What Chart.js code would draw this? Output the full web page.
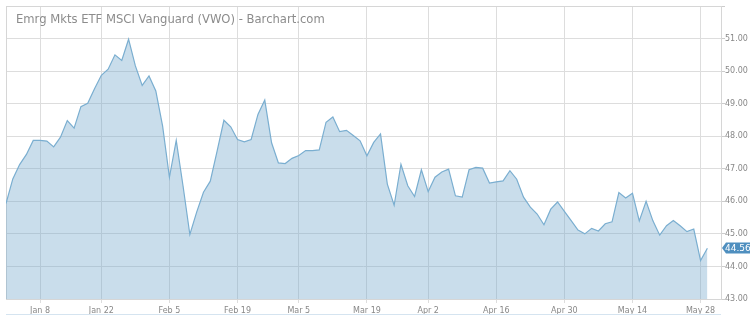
<!DOCTYPE html>
<html lang="en">
<head>
    <meta charset="UTF-8">
    <title>Emrg Mkts ETF MSCI Vanguard (VWO) - Barchart.com</title>
    <script src="https://cdn.jsdelivr.net/npm/chart.js@4.4.1/dist/chart.umd.min.js"></script>
    <style>
        html, body { margin: 0; padding: 0; background: #fff; }
        canvas { display: block; }
    </style>
</head>
<body>
    <canvas id="chart" width="750" height="324"></canvas>

    <script>
        const chartTitle = 'Emrg Mkts ETF MSCI Vanguard (VWO) - Barchart.com';

        // trading days, Dec 29 2017 - May 30 2018
        const dates = [
            'Dec 29',
            'Jan 2', 'Jan 3', 'Jan 4', 'Jan 5', 'Jan 8', 'Jan 9', 'Jan 10', 'Jan 11', 'Jan 12',
            'Jan 16', 'Jan 17', 'Jan 18', 'Jan 19', 'Jan 22', 'Jan 23', 'Jan 24', 'Jan 25', 'Jan 26',
            'Jan 29', 'Jan 30', 'Jan 31',
            'Feb 1', 'Feb 2', 'Feb 5', 'Feb 6', 'Feb 7', 'Feb 8', 'Feb 9', 'Feb 12', 'Feb 13', 'Feb 14',
            'Feb 15', 'Feb 16', 'Feb 20', 'Feb 21', 'Feb 22', 'Feb 23', 'Feb 26', 'Feb 27', 'Feb 28',
            'Mar 1', 'Mar 2', 'Mar 5', 'Mar 6', 'Mar 7', 'Mar 8', 'Mar 9', 'Mar 12', 'Mar 13', 'Mar 14',
            'Mar 15', 'Mar 16', 'Mar 19', 'Mar 20', 'Mar 21', 'Mar 22', 'Mar 23', 'Mar 26', 'Mar 27',
            'Mar 28', 'Mar 29',
            'Apr 2', 'Apr 3', 'Apr 4', 'Apr 5', 'Apr 6', 'Apr 9', 'Apr 10', 'Apr 11', 'Apr 12', 'Apr 13',
            'Apr 16', 'Apr 17', 'Apr 18', 'Apr 19', 'Apr 20', 'Apr 23', 'Apr 24', 'Apr 25', 'Apr 26',
            'Apr 27', 'Apr 30',
            'May 1', 'May 2', 'May 3', 'May 4', 'May 7', 'May 8', 'May 9', 'May 10', 'May 11', 'May 14',
            'May 15', 'May 16', 'May 17', 'May 18', 'May 21', 'May 22', 'May 23', 'May 24', 'May 25',
            'May 29', 'May 30'
        ];

        const closes = [
            45.93,
            46.69, 47.13, 47.44, 47.87, 47.87, 47.85, 47.67, 47.97, 48.48,
            48.25, 48.91, 49.01, 49.46, 49.87, 50.06, 50.50, 50.33, 50.98,
            50.16, 49.56, 49.85,
            49.39, 48.31, 46.74, 47.87, 46.47, 44.98, 45.67, 46.28, 46.62, 47.54,
            48.49, 48.29, 47.90, 47.83, 47.90, 48.67, 49.11, 47.80, 47.18,
            47.16, 47.32, 47.41, 47.56, 47.56, 47.58, 48.43, 48.59, 48.14, 48.18,
            48.02, 47.86, 47.40, 47.81, 48.07, 46.53, 45.88, 47.14, 46.48,
            46.15, 46.97,
            46.30, 46.74, 46.90, 46.99, 46.17, 46.13, 46.97, 47.04, 47.02, 46.56,
            46.60, 46.63, 46.94, 46.68, 46.13, 45.82, 45.61, 45.28, 45.76,
            45.98, 45.69,
            45.41, 45.12, 45.00, 45.17, 45.09, 45.31, 45.37, 46.27, 46.10, 46.25,
            45.40, 46.00, 45.40, 44.96, 45.25, 45.41, 45.25, 45.07, 45.15,
            44.18, 44.56
        ];

        // x tick labels and the trading day each one sits on
        const tickLabels = ['Jan 8', 'Jan 22', 'Feb 5', 'Feb 19', 'Mar 5', 'Mar 19', 'Apr 2', 'Apr 16', 'Apr 30', 'May 14', 'May 28'];
        const tickDates  = ['Jan 8', 'Jan 22', 'Feb 5', 'Feb 20', 'Mar 5', 'Mar 19', 'Apr 2', 'Apr 16', 'Apr 30', 'May 14', 'May 29'];

        const yMin = 43;
        const yMax = 52;

        const tickIdx = tickDates.map(d => dates.indexOf(d));
        const lastPrice = closes[closes.length - 1];

        const frame = {
            id: 'frame',
            beforeDatasetsDraw(chart) {
                const { ctx, chartArea: a } = chart;
                ctx.save();
                ctx.strokeStyle = '#d6d6d6';
                ctx.lineWidth = 1;
                ctx.strokeRect(a.left + 0.5, a.top + 0.5, a.right - a.left, a.bottom - a.top);
                ctx.restore();
            },
            afterDraw(chart) {
                const { ctx, chartArea: a, scales } = chart;
                ctx.save();
                // title
                ctx.fillStyle = '#8c8c8c';
                ctx.font = '11.6px "DejaVu Sans"';
                ctx.textBaseline = 'alphabetic';
                ctx.fillText(chartTitle, 16, 23);

                // navigator line under the x labels
                ctx.strokeStyle = '#d5e4f0';
                ctx.beginPath();
                ctx.moveTo(a.left, 314.5);
                ctx.lineTo(a.right, 314.5);
                ctx.stroke();

                // last price tag
                const y = Math.round(scales.y.getPixelForValue(lastPrice));
                const x0 = a.right + 1;
                ctx.fillStyle = '#4f8fbf';
                ctx.beginPath();
                ctx.moveTo(x0, y);
                ctx.lineTo(x0 + 4, y - 5.5);
                ctx.lineTo(750, y - 5.5);
                ctx.lineTo(750, y + 5.5);
                ctx.lineTo(x0 + 4, y + 5.5);
                ctx.closePath();
                ctx.fill();
                ctx.fillStyle = '#fff';
                ctx.font = '9px "DejaVu Sans"';
                ctx.textBaseline = 'middle';
                ctx.fillText(lastPrice.toFixed(2), x0 + 3, y + 0.5);
                ctx.restore();
            }
        };

        new Chart(document.getElementById('chart'), {
            type: 'line',
            data: {
                datasets: [{
                    label: 'VWO',
                    data: closes.map((v, i) => ({ x: i, y: v })),
                    borderColor: '#7aaed0',
                    backgroundColor: 'rgba(120, 170, 205, 0.4)',
                    borderWidth: 1.2,
                    fill: 'start',
                    pointRadius: 0,
                    tension: 0
                }]
            },
            options: {
                responsive: false,
                animation: false,
                layout: { padding: { left: 6, top: 6, right: 0, bottom: 0 } },
                plugins: {
                    legend: { display: false },
                    tooltip: { enabled: false }
                },
                scales: {
                    x: {
                        type: 'linear',
                        min: 0,
                        max: 105,
                        afterBuildTicks: scale => { scale.ticks = tickIdx.map(v => ({ value: v })); },
                        afterFit: scale => { scale.height = 25; },
                        grid: { color: '#dddddd', tickLength: 4, tickColor: '#dddddd' },
                        border: { display: false },
                        ticks: {
                            autoSkip: false,
                            maxRotation: 0,
                            padding: 3,
                            color: '#888888',
                            font: { family: 'DejaVu Sans', size: 8 },
                            callback: (v) => tickLabels[tickIdx.indexOf(v)]
                        }
                    },
                    y: {
                        position: 'right',
                        min: yMin,
                        max: yMax,
                        afterFit: scale => { scale.width = 29; },
                        grid: { color: '#dddddd', tickLength: 4, tickColor: '#cccccc' },
                        border: { display: false },
                        ticks: {
                            stepSize: 1,
                            padding: 0,
                            color: '#888888',
                            font: { family: 'DejaVu Sans', size: 8 },
                            callback: v => v === yMax ? '' : v.toFixed(2)
                        }
                    }
                }
            },
            plugins: [frame]
        });
    </script>
</body>
</html>
